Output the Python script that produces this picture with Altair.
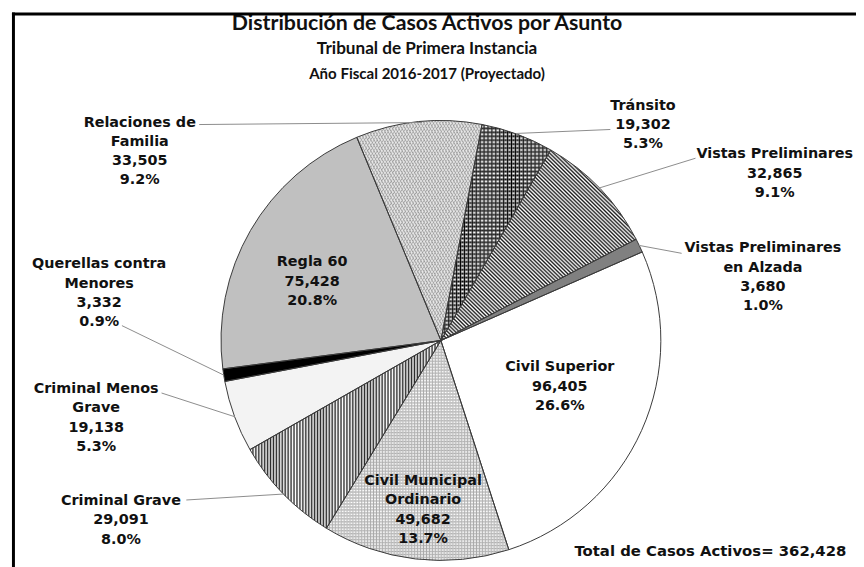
import math
import altair as alt
import pandas as pd

# ---------------- data ----------------
categories = [
    "Relaciones de Familia", "Tránsito", "Vistas Preliminares",
    "Vistas Preliminares en Alzada", "Civil Superior", "Civil Municipal Ordinario",
    "Criminal Grave", "Criminal Menos Grave", "Querellas contra Menores", "Regla 60",
]
values = [33505, 19302, 32865, 3680, 96405, 49682, 29091, 19138, 3332, 75428]
label_lines = [
    ["Relaciones de", "Familia"], ["Tránsito"], ["Vistas Preliminares"],
    ["Vistas Preliminares", "en Alzada"], ["Civil Superior"], ["Civil Municipal", "Ordinario"],
    ["Criminal Grave"], ["Criminal Menos", "Grave"], ["Querellas contra", "Menores"], ["Regla 60"],
]
title_lines = ["Distribución de Casos Activos por Asunto",
               "Tribunal de Primera Instancia",
               "Año Fiscal 2016-2017 (Proyectado)"]
total_label = "Total de Casos Activos= 362,428"

# ---------------- styles / layout ----------------
base_fills = ["#e6e6e6", "#ffffff", "#ffffff", "#808080", "#ffffff",
              "#ffffff", "#ffffff", "#f3f3f3", "#000000", "#c0c0c0"]
total = sum(values)
OFF = 8  # page margin
cx, cy, R = 445 - OFF, 341 - OFF, 222
t0 = math.radians(-22.5)

# label anchor (page coords): center x, first line y
label_pos = [(141, 121), (649, 104), (782, 153), (770, 248), (565, 368),
             (427, 483), (122, 503), (97, 390), (100, 264), (315, 262)]
LH = 19.5
leaders = [  # page coords x, y, x2, y2
    (201, 123, 426, 121), (616, 128, 521, 132), (702, 157, 605, 187),
    (688, 253, 645, 245), (123, 326, 226, 376), (163, 394, 237, 418),
    (188, 502, 286, 496),
]

df = pd.DataFrame({"order": list(range(len(categories))), "cat": categories,
                   "value": values, "fill": base_fills})

rows = []
for name, lines, (px, py), v in zip(categories, label_lines, label_pos, values):
    texts = lines + [f"{v:,}", f"{v / total * 100:.1f}%"]
    for i, t in enumerate(texts):
        rows.append({"x": px - OFF, "y": py - OFF + i * LH, "text": t})
lab_df = pd.DataFrame(rows)

lead_df = pd.DataFrame([{"x": a - OFF, "y": b - OFF, "x2": c - OFF, "y2": d - OFF}
                        for a, b, c, d in leaders])

title_df = pd.DataFrame({"text": title_lines, "x": [431 - OFF] * 3,
                         "y": [22 - OFF, 47 - OFF, 72 - OFF], "size": [21.5, 17.3, 15.2]})


def waves(c1, c2, n, x1, y1, x2, y2):
    """soft periodic stripes (triangle wave) to avoid moire"""
    stops = []
    for k in range(n):
        stops += [alt.GradientStop(offset=k / n, color=c1),
                  alt.GradientStop(offset=(k + 0.5) / n, color=c2)]
    stops.append(alt.GradientStop(offset=1.0, color=c1))
    return alt.LinearGradient(gradient="linear", stops=stops, x1=x1, y1=y1, x2=x2, y2=y2)


TR = "rgba(255,255,255,0)"
patterns = {
    "Relaciones de Familia": [waves("#9a9a9a", TR, 80, 0, 0, 1, 1),
                              waves("#9a9a9a", TR, 80, 0, 1, 1, 0)],
    "Tránsito": [waves("#000000", "#ffffff", 55, 0, 0, 0, 1),
                 waves("#000000", TR, 28, 0, 0, 1, 0)],
    "Vistas Preliminares": [waves("#1a1a1a", "#ffffff", 100, 0, 1, 1, 0)],
    "Civil Municipal Ordinario": [waves("#a8a8a8", "#ffffff", 74, 0, 0, 0, 1),
                                  waves("#a8a8a8", TR, 62, 0, 0, 1, 0)],
    "Criminal Grave": [waves("#2a2a2a", "#ffffff", 65, 0, 0, 1, 0)],
}

pie_base = alt.Chart(df).transform_window(
    cum="sum(value)", sort=[alt.SortField("order")], frame=[None, 0]
).transform_calculate(start="datum.cum - datum.value")

enc = dict(
    theta=alt.Theta("start:Q", scale=alt.Scale(domain=[0, total], range=[t0, t0 + 2 * math.pi])),
    theta2=alt.Theta2("cum:Q"),
    x=alt.value(cx), y=alt.value(cy),
)

layers = [pie_base.mark_arc(radius=R, strokeWidth=0).encode(
    fill=alt.Fill("fill:N", scale=None), **enc)]
for name, grads in patterns.items():
    for g in grads:
        layers.append(pie_base.transform_filter(alt.datum.cat == name)
                      .mark_arc(radius=R, fill=g, strokeWidth=0).encode(**enc))
layers.append(pie_base.mark_arc(radius=R, fillOpacity=0, stroke="#3a3a3a",
                                strokeWidth=1).encode(**enc))

leader_layer = alt.Chart(lead_df).mark_rule(color="#8c8c8c", strokeWidth=1).encode(
    x=alt.X("x:Q", scale=None), y=alt.Y("y:Q", scale=None), x2="x2:Q", y2="y2:Q")

label_layer = alt.Chart(lab_df).mark_text(
    font="DejaVu Sans", fontWeight="bold", fontSize=14.5, align="center",
    baseline="middle", color="#111111").encode(
    x=alt.X("x:Q", scale=None), y=alt.Y("y:Q", scale=None), text="text:N")

title_layer = alt.Chart(title_df).mark_text(
    font="Lato", fontWeight="bold", align="center", baseline="middle",
    color="#111111").encode(
    x=alt.X("x:Q", scale=None), y=alt.Y("y:Q", scale=None), text="text:N",
    size=alt.Size("size:Q", scale=None))

total_layer = alt.Chart(pd.DataFrame({"text": [total_label]})).mark_text(
    font="DejaVu Sans", fontWeight="bold", fontSize=15, align="center",
    baseline="middle", color="#111111").encode(
    x=alt.value(717 - OFF), y=alt.value(554 - OFF), text="text:N")

frame_top = alt.Chart(pd.DataFrame({"k": [0]})).mark_rule(color="#000000", strokeWidth=3).encode(
    x=alt.value(4), x2=alt.value(870), y=alt.value(3.5))
frame_left = alt.Chart(pd.DataFrame({"k": [0]})).mark_rule(color="#000000", strokeWidth=3).encode(
    x=alt.value(5.5), y=alt.value(2), y2=alt.value(580))

chart = alt.layer(
    *layers, leader_layer, label_layer, title_layer, total_layer, frame_top, frame_left
).properties(width=856, height=559, padding=0, autosize="none",
             background="#ffffff").configure_view(stroke=None)

chart.save("out.html", embed_options={"renderer": "svg", "actions": False})
